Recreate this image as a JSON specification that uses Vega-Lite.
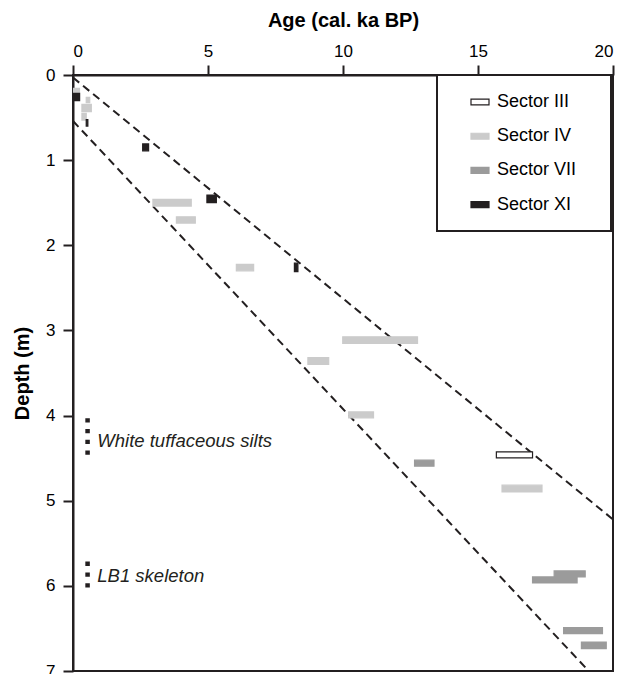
{
  "$schema": "https://vega.github.io/schema/vega-lite/v6.json",
  "width": 540,
  "height": 596,
  "autosize": "none",
  "padding": {"left": 73, "top": 75, "right": 18, "bottom": 3},
  "background": "white",
  "config": {
    "font": "Liberation Sans",
    "view": {"stroke": "#231f20", "strokeWidth": 2},
    "axis": {
      "domainColor": "#231f20", "domainWidth": 2,
      "tickColor": "#231f20", "tickWidth": 2, "tickSize": 10,
      "labelFont": "Liberation Sans", "labelFontSize": 17, "labelColor": "black",
      "titleFont": "Liberation Sans", "titleFontSize": 20, "titleFontWeight": "bold", "titleColor": "black",
      "grid": false
    },
    "legend": {
      "orient": "none", "legendX": 364, "legendY": 0,
      "padding": 17, "rowPadding": 15.2,
      "strokeColor": "#231f20", "strokeWidth": 2, "fillColor": "white",
      "labelFont": "Liberation Sans", "labelFontSize": 18, "labelColor": "black",
      "symbolType": "M-1,-0.33H1V0.33H-1Z", "symbolSize": 324,
      "symbolOffset": 16, "labelOffset": 7, "symbolStrokeWidth": 1.2
    }
  },
  "datasets": {
    "bars": [
      {"sector": "Sector IV", "age_min": 0.02, "age_max": 0.24, "depth_top": 0.156, "depth_bottom": 0.208},
      {"sector": "Sector XI", "age_min": 0.02, "age_max": 0.245, "depth_top": 0.215, "depth_bottom": 0.302},
      {"sector": "Sector IV", "age_min": 0.49, "age_max": 0.62, "depth_top": 0.262, "depth_bottom": 0.325},
      {"sector": "Sector IV", "age_min": 0.33, "age_max": 0.68, "depth_top": 0.344, "depth_bottom": 0.431},
      {"sector": "Sector IV", "age_min": 0.33, "age_max": 0.49, "depth_top": 0.45, "depth_bottom": 0.53},
      {"sector": "Sector XI", "age_min": 0.49, "age_max": 0.55, "depth_top": 0.525, "depth_bottom": 0.6},
      {"sector": "Sector XI", "age_min": 2.58, "age_max": 2.8, "depth_top": 0.81, "depth_bottom": 0.89},
      {"sector": "Sector XI", "age_min": 4.96, "age_max": 5.31, "depth_top": 1.41, "depth_bottom": 1.5},
      {"sector": "Sector IV", "age_min": 2.96, "age_max": 4.38, "depth_top": 1.46, "depth_bottom": 1.54},
      {"sector": "Sector IV", "age_min": 3.83, "age_max": 4.53, "depth_top": 1.665, "depth_bottom": 1.74},
      {"sector": "Sector IV", "age_min": 6.05, "age_max": 6.69, "depth_top": 2.225, "depth_bottom": 2.3},
      {"sector": "Sector XI", "age_min": 8.2, "age_max": 8.33, "depth_top": 2.21, "depth_bottom": 2.31},
      {"sector": "Sector IV", "age_min": 9.99, "age_max": 12.76, "depth_top": 3.075, "depth_bottom": 3.153},
      {"sector": "Sector IV", "age_min": 8.7, "age_max": 9.47, "depth_top": 3.32, "depth_bottom": 3.4},
      {"sector": "Sector IV", "age_min": 10.21, "age_max": 11.13, "depth_top": 3.957, "depth_bottom": 4.027},
      {"sector": "Sector III", "age_min": 15.68, "age_max": 17.02, "depth_top": 4.427, "depth_bottom": 4.497},
      {"sector": "Sector VII", "age_min": 12.65, "age_max": 13.37, "depth_top": 4.524, "depth_bottom": 4.594},
      {"sector": "Sector IV", "age_min": 15.89, "age_max": 17.37, "depth_top": 4.818, "depth_bottom": 4.897},
      {"sector": "Sector VII", "age_min": 17.82, "age_max": 18.97, "depth_top": 5.825, "depth_bottom": 5.895},
      {"sector": "Sector VII", "age_min": 17.02, "age_max": 18.67, "depth_top": 5.895, "depth_bottom": 5.966},
      {"sector": "Sector VII", "age_min": 18.17, "age_max": 19.61, "depth_top": 6.49, "depth_bottom": 6.56},
      {"sector": "Sector VII", "age_min": 18.83, "age_max": 19.75, "depth_top": 6.66, "depth_bottom": 6.737}
    ],
    "envelope": [
      {"line": "upper", "a0": 0, "d0": 0.03, "a1": 20, "d1": 5.22},
      {"line": "lower", "a0": 0, "d0": 0.54, "a1": 19.1, "d1": 7}
    ],
    "markers": [
      {"age": 0.54, "d0": 4.03, "d1": 4.46},
      {"age": 0.54, "d0": 5.715, "d1": 6.02}
    ],
    "notes": [
      {"age": 0.9, "depth": 4.3, "label": "White tuffaceous silts"},
      {"age": 0.9, "depth": 5.88, "label": "LB1 skeleton"}
    ]
  },
  "layer": [
    {
      "data": {"name": "envelope"},
      "mark": {"type": "rule", "strokeDash": [8, 5], "strokeWidth": 2, "color": "#231f20"},
      "encoding": {
        "x": {"field": "a0", "type": "quantitative", "scale": {"domain": [0, 20], "nice": false},
              "axis": {"orient": "top", "values": [0, 5, 10, 15, 20], "format": "d", "title": "Age (cal. ka BP)", "labelPadding": 5, "titleY": -55, "titleBaseline": "middle"}},
        "y": {"field": "d0", "type": "quantitative", "scale": {"domain": [0, 7], "nice": false, "reverse": true},
              "axis": {"orient": "left", "values": [0, 1, 2, 3, 4, 5, 6, 7], "format": "d", "title": "Depth (m)", "labelPadding": 8, "titlePadding": 13}},
        "x2": {"field": "a1"},
        "y2": {"field": "d1"}
      }
    },
    {
      "data": {"name": "bars"},
      "mark": {"type": "rect", "strokeWidth": 1.2},
      "encoding": {
        "x": {"field": "age_min", "type": "quantitative"},
        "x2": {"field": "age_max"},
        "y": {"field": "depth_top", "type": "quantitative"},
        "y2": {"field": "depth_bottom"},
        "fill": {"field": "sector", "type": "nominal",
                 "scale": {"domain": ["Sector III", "Sector IV", "Sector VII", "Sector XI"], "range": ["#ffffff", "#cbcbcb", "#9b9b9b", "#231f20"]},
                 "legend": {"title": "\u00a0", "titleOrient": "right", "titlePadding": 18, "titleFontSize": 17}},
        "stroke": {"field": "sector", "type": "nominal",
                   "scale": {"domain": ["Sector III", "Sector IV", "Sector VII", "Sector XI"], "range": ["#231f20", "#cbcbcb", "#9b9b9b", "#231f20"]},
                   "legend": {"title": "\u00a0", "titleOrient": "right", "titlePadding": 18, "titleFontSize": 17}}
      }
    },
    {
      "data": {"name": "markers"},
      "mark": {"type": "rule", "strokeWidth": 4.5, "strokeDash": [4.3, 6.5], "color": "#231f20"},
      "encoding": {
        "x": {"field": "age", "type": "quantitative"},
        "y": {"field": "d0", "type": "quantitative"},
        "y2": {"field": "d1"}
      }
    },
    {
      "data": {"name": "notes"},
      "mark": {"type": "text", "align": "left", "baseline": "middle", "fontSize": 18.5, "fontStyle": "italic", "font": "Liberation Sans", "color": "#231f20"},
      "encoding": {
        "x": {"field": "age", "type": "quantitative"},
        "y": {"field": "depth", "type": "quantitative"},
        "text": {"field": "label", "type": "nominal"}
      }
    }
  ]
}
